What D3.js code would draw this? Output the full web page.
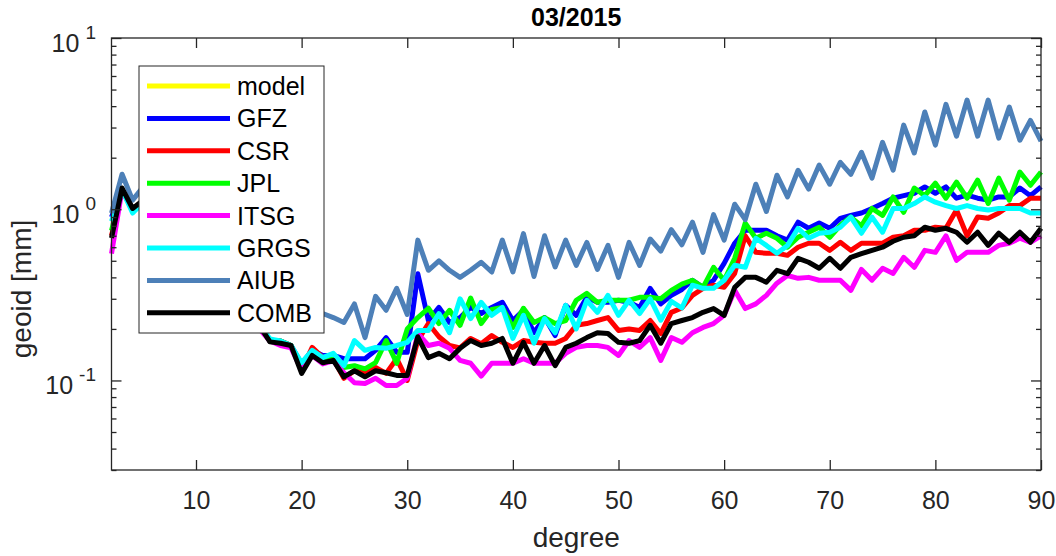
<!DOCTYPE html>
<html>
<head>
<meta charset="utf-8">
<script src="https://cdn.jsdelivr.net/npm/d3@7"></script>
<style>
  html, body { margin: 0; padding: 0; background: #fff; }
  svg { display: block; font-family: "Liberation Sans", Arial, Helvetica, sans-serif; }
</style>
</head>
<body>
<svg id="chart" width="1056" height="556"></svg>
<script>
// spherical harmonic degree 2..90
const degrees = d3.range(2, 91);

// degree amplitudes [mm] (5..16 lie behind the legend)
const modelVals = []; // model curve is not visible anywhere in the figure

const gfzVals = [
  0.9, 1.3, 1.0, 1.1, 0.9, 0.8, 0.7, 0.6, 0.55, 0.5, 0.42, 0.37, 0.31, 0.26, 0.21,
  0.17, 0.17, 0.16, 0.125, 0.15, 0.14, 0.14, 0.134, 0.134, 0.134, 0.15, 0.178, 0.146, 0.146,
  0.42, 0.224, 0.267, 0.218, 0.233, 0.267, 0.246, 0.267, 0.286, 0.224, 0.257, 0.19, 0.233, 0.183,
  0.275, 0.24, 0.306, 0.286, 0.286, 0.294, 0.286, 0.267, 0.345, 0.28, 0.314, 0.34, 0.385, 0.35,
  0.385, 0.483, 0.633, 0.754, 0.754, 0.754, 0.70, 0.66, 0.84, 0.774, 0.83, 0.774, 0.885, 0.92,
  0.95, 1.01, 1.08, 1.16, 1.2, 1.24, 1.35, 1.24, 1.35, 1.16, 1.21, 1.16, 1.13, 1.18, 1.18, 1.33,
  1.2, 1.35
];

const csrVals = [
  0.70, 1.3, 1.0, 1.1, 0.9, 0.8, 0.7, 0.6, 0.55, 0.5, 0.42, 0.37, 0.31, 0.26, 0.21,
  0.17, 0.17, 0.16, 0.115, 0.156, 0.136, 0.134, 0.103, 0.114, 0.111, 0.119, 0.11, 0.134, 0.10,
  0.171, 0.215, 0.18, 0.16, 0.155, 0.176, 0.164, 0.183, 0.167, 0.156, 0.171, 0.167, 0.165, 0.165,
  0.176, 0.21, 0.215, 0.224, 0.233, 0.196, 0.20, 0.196, 0.224, 0.188, 0.25, 0.265, 0.314, 0.345,
  0.36, 0.35, 0.422, 0.70, 0.56, 0.553, 0.553, 0.538, 0.60, 0.633, 0.633, 0.575, 0.641, 0.575,
  0.633, 0.633, 0.633, 0.686, 0.70, 0.754, 0.754, 0.785, 0.774, 0.99, 0.70, 0.90, 0.885, 0.95,
  1.05, 1.05, 1.16, 1.16
];

const jplVals = [
  0.75, 1.3, 1.0, 1.1, 0.9, 0.8, 0.7, 0.6, 0.55, 0.5, 0.42, 0.37, 0.31, 0.26, 0.21,
  0.17, 0.17, 0.16, 0.12, 0.145, 0.135, 0.135, 0.119, 0.122, 0.117, 0.127, 0.171, 0.126, 0.2,
  0.233, 0.264, 0.215, 0.257, 0.21, 0.303, 0.215, 0.26, 0.267, 0.204, 0.264, 0.218, 0.233, 0.215,
  0.224, 0.294, 0.323, 0.286, 0.294, 0.294, 0.294, 0.306, 0.306, 0.30, 0.336, 0.365, 0.385, 0.35,
  0.458, 0.385, 0.517, 0.83, 0.677, 0.724, 0.677, 0.60, 0.686, 0.734, 0.785, 0.686, 0.806, 0.90,
  0.80, 1.01, 0.92, 1.18, 0.96, 1.33, 1.2, 1.42, 1.16, 1.44, 1.16, 1.48, 1.08, 1.52, 1.13, 1.65,
  1.38, 1.65
];

const itsgVals = [
  0.55, 1.3, 1.0, 1.1, 0.88, 0.78, 0.68, 0.6, 0.54, 0.48, 0.41, 0.36, 0.3, 0.25, 0.2,
  0.17, 0.16, 0.155, 0.115, 0.14, 0.125, 0.13, 0.111, 0.097, 0.096, 0.103, 0.0935, 0.0935, 0.103,
  0.188, 0.16, 0.165, 0.154, 0.131, 0.126, 0.106, 0.126, 0.126, 0.126, 0.134, 0.126, 0.126, 0.126,
  0.144, 0.156, 0.16, 0.16, 0.156, 0.14, 0.171, 0.156, 0.178, 0.131, 0.178, 0.167, 0.19, 0.204,
  0.215, 0.24, 0.336, 0.263, 0.28, 0.314, 0.37, 0.41, 0.395, 0.40, 0.385, 0.385, 0.385, 0.336,
  0.445, 0.385, 0.452, 0.422, 0.524, 0.458, 0.575, 0.56, 0.70, 0.503, 0.56, 0.56, 0.56, 0.615,
  0.633, 0.677, 0.641, 0.70
];

const grgsVals = [
  0.85, 1.3, 0.95, 1.1, 0.9, 0.8, 0.7, 0.6, 0.55, 0.5, 0.42, 0.37, 0.31, 0.26, 0.21,
  0.175, 0.17, 0.16, 0.127, 0.15, 0.136, 0.144, 0.122, 0.171, 0.15, 0.156, 0.154, 0.16, 0.167,
  0.196, 0.196, 0.246, 0.19, 0.30, 0.23, 0.286, 0.24, 0.267, 0.176, 0.24, 0.165, 0.23, 0.19,
  0.275, 0.20, 0.294, 0.25, 0.314, 0.24, 0.294, 0.246, 0.30, 0.225, 0.29, 0.265, 0.36, 0.345,
  0.345, 0.385, 0.471, 0.458, 0.677, 0.615, 0.553, 0.615, 0.774, 0.677, 0.724, 0.734, 0.785, 0.90,
  0.724, 0.90, 0.734, 1.01, 1.01, 1.08, 1.18, 1.1, 1.05, 1.01, 1.05, 1.01, 0.99, 1.01, 1.01, 1.01,
  0.95, 0.95
];

const aiubVals = [
  0.95, 1.6, 1.13, 1.35, 1.0, 0.9, 0.8, 0.7, 0.62, 0.55, 0.5, 0.45, 0.4, 0.37, 0.34,
  0.31, 0.29, 0.28, 0.26, 0.27, 0.246, 0.233, 0.218, 0.28, 0.178, 0.31, 0.257, 0.345, 0.243,
  0.66, 0.44, 0.50, 0.44, 0.40, 0.44, 0.49, 0.43, 0.66, 0.43, 0.72, 0.405, 0.70, 0.46,
  0.66, 0.47, 0.64, 0.445, 0.615, 0.40, 0.64, 0.47, 0.67, 0.57, 0.76, 0.62, 0.84, 0.56,
  0.93, 0.66, 1.07, 0.87, 1.40, 0.97, 1.58, 1.18, 1.69, 1.31, 1.81, 1.40, 1.88, 1.60,
  2.15, 1.52, 2.46, 1.69, 3.1, 2.13, 3.7, 2.37, 4.1, 2.67, 4.34, 2.67, 4.34, 2.6, 3.95, 2.53,
  3.3, 2.5
];

const combVals = [
  0.68, 1.33, 1.01, 1.13, 0.9, 0.8, 0.7, 0.6, 0.55, 0.5, 0.42, 0.37, 0.31, 0.26, 0.21,
  0.168, 0.165, 0.16, 0.11, 0.14, 0.127, 0.131, 0.105, 0.114, 0.105, 0.114, 0.111, 0.107, 0.107,
  0.18, 0.136, 0.144, 0.134, 0.154, 0.171, 0.16, 0.165, 0.176, 0.126, 0.167, 0.126, 0.16, 0.122,
  0.156, 0.165, 0.178, 0.19, 0.188, 0.167, 0.165, 0.171, 0.21, 0.165, 0.215, 0.224, 0.233, 0.25,
  0.263, 0.24, 0.35, 0.40, 0.40, 0.375, 0.44, 0.42, 0.517, 0.49, 0.452, 0.517, 0.452, 0.524,
  0.55, 0.575, 0.60, 0.65, 0.686, 0.70, 0.785, 0.754, 0.774, 0.734, 0.641, 0.734, 0.615, 0.724,
  0.641, 0.734, 0.641, 0.774
];

const seriesNames = ['model', 'GFZ', 'CSR', 'JPL', 'ITSG', 'GRGS', 'AIUB', 'COMB'];
const seriesValues = [modelVals, gfzVals, csrVals, jplVals, itsgVals, grgsVals, aiubVals, combVals];
const seriesColors = ['#ffff00', '#0000ff', '#ff0000', '#00ff00', '#ff00ff', '#00ffff', '#4d80b8', '#000000'];

const xTicks = [10, 20, 30, 40, 50, 60, 70, 80, 90];
const yMajorTicks = [0.1, 1, 10];
const yMajorExp = ['-1', '0', '1'];
const yMinorTicks = [0.03, 0.04, 0.05, 0.06, 0.07, 0.08, 0.09,
  0.2, 0.3, 0.4, 0.5, 0.6, 0.7, 0.8, 0.9, 2, 3, 4, 5, 6, 7, 8, 9];

const axisColor = '#262626';
const plot = { left: 111.5, right: 1041, top: 38, bottom: 470 };

const svg = d3.select('#chart');

const x = d3.scaleLinear().domain([2, 90]).range([plot.left, plot.right]);
const y = d3.scaleLog().domain([0.03, 10]).range([plot.bottom, plot.top]);

// curves
const line = d3.line()
  .x((d, i) => x(degrees[i]))
  .y((d) => y(d));

const curves = svg.append('g').attr('class', 'curves');
seriesValues.forEach((vals, k) => {
  if (!vals.length) return;
  curves.append('path')
    .datum(vals)
    .attr('d', line)
    .attr('fill', 'none')
    .attr('stroke', seriesColors[k])
    .attr('stroke-width', 5)
    .attr('stroke-linejoin', 'round')
    .attr('stroke-linecap', 'butt');
});

// axes (ticks point inwards, box on)
function styleAxis(g) {
  g.select('.domain').remove();
  g.selectAll('line').attr('stroke', axisColor).attr('stroke-width', 1.3);
  g.selectAll('text').attr('fill', axisColor);
}

svg.append('g')
  .attr('transform', `translate(0,${plot.bottom})`)
  .call(d3.axisBottom(x).tickValues(xTicks).tickSize(-10).tickPadding(21).tickFormat(d3.format('d')))
  .call(styleAxis)
  .selectAll('text')
  .attr('font-size', 25)
  .attr('font-family', '"Liberation Sans", Arial, sans-serif');

svg.append('g')
  .attr('transform', `translate(0,${plot.top})`)
  .call(d3.axisTop(x).tickValues(xTicks).tickSize(-10).tickFormat(''))
  .call(styleAxis);

[d3.axisLeft, d3.axisRight].forEach((maker, side) => {
  const pos = side === 0 ? plot.left : plot.right;
  svg.append('g')
    .attr('transform', `translate(${pos},0)`)
    .call(maker(y).tickValues(yMinorTicks).tickSize(-5).tickFormat(''))
    .call(styleAxis);
  svg.append('g')
    .attr('transform', `translate(${pos},0)`)
    .call(maker(y).tickValues(yMajorTicks).tickSize(-10).tickFormat(''))
    .call(styleAxis);
});

// y tick labels as 10^k
yMajorTicks.forEach((v, i) => {
  const t = svg.append('text')
    .attr('x', 96)
    .attr('y', y(v) + 14)
    .attr('text-anchor', 'end')
    .attr('fill', axisColor)
    .attr('font-size', 25);
  t.append('tspan').text('10');
  t.append('tspan')
    .attr('dx', 6)
    .attr('dy', -13)
    .attr('font-size', 19)
    .text(yMajorExp[i]);
});

svg.append('rect')
  .attr('x', plot.left)
  .attr('y', plot.top)
  .attr('width', plot.right - plot.left)
  .attr('height', plot.bottom - plot.top)
  .attr('fill', 'none')
  .attr('stroke', axisColor)
  .attr('stroke-width', 1.3);

// labels
svg.append('text')
  .attr('x', (plot.left + plot.right) / 2)
  .attr('y', 26)
  .attr('text-anchor', 'middle')
  .attr('font-size', 25)
  .attr('font-weight', 'bold')
  .attr('fill', '#000')
  .text('03/2015');

svg.append('text')
  .attr('x', (plot.left + plot.right) / 2)
  .attr('y', 547)
  .attr('text-anchor', 'middle')
  .attr('font-size', 28)
  .attr('fill', axisColor)
  .text('degree');

svg.append('text')
  .attr('transform', 'translate(31,289) rotate(-90)')
  .attr('text-anchor', 'middle')
  .attr('font-size', 28)
  .attr('fill', axisColor)
  .text('geoid [mm]');

// legend
const legend = svg.append('g').attr('transform', 'translate(139,66)');
legend.append('rect')
  .attr('width', 185)
  .attr('height', 267)
  .attr('fill', '#fff')
  .attr('stroke', axisColor)
  .attr('stroke-width', 1);

seriesNames.forEach((name, k) => {
  const rowY = 20 + k * 32.4;
  legend.append('line')
    .attr('x1', 8)
    .attr('x2', 91)
    .attr('y1', rowY)
    .attr('y2', rowY)
    .attr('stroke', seriesColors[k])
    .attr('stroke-width', 5);
  legend.append('text')
    .attr('x', 98)
    .attr('y', rowY + 9)
    .attr('font-size', 25)
    .attr('fill', '#000')
    .text(name);
});
</script>
</body>
</html>
